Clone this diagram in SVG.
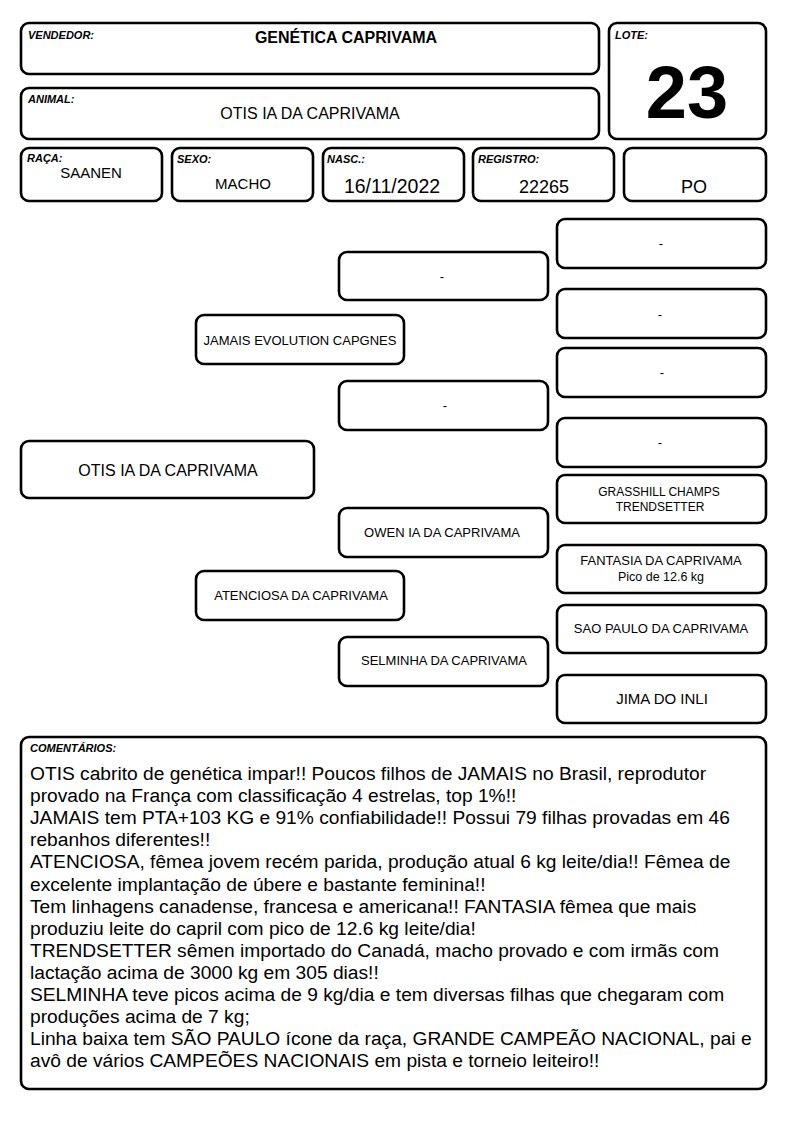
<svg xmlns="http://www.w3.org/2000/svg" width="794" height="1123" viewBox="0 0 794 1123">
<style>
.b{fill:#fff;stroke:#000;stroke-width:2.6}
.l{font-family:"Liberation Sans",Arial,sans-serif;font-size:11px;font-weight:bold;font-style:italic;fill:#000}
.t{font-family:"Liberation Sans",Arial,sans-serif;fill:#000;text-anchor:middle}
.c{font-family:"Liberation Sans",Arial,sans-serif;font-size:19.2px;fill:#000}
</style>
<rect width="794" height="1123" fill="#fff"/>
<g id="vendedor"><rect class="b" x="21" y="23" width="578" height="51" rx="8"/><text class="l" x="28" y="39">VENDEDOR:</text><text class="t" x="346" y="43" font-size="16" font-weight="bold">GENÉTICA CAPRIVAMA</text></g>
<g id="lote"><rect class="b" x="609" y="23" width="157" height="116" rx="8"/><text class="l" x="615" y="39">LOTE:</text><text class="t" x="687" y="118" font-size="74" font-weight="bold">23</text></g>
<g id="animal"><rect class="b" x="21" y="88" width="578" height="51" rx="8"/><text class="l" x="28" y="103">ANIMAL:</text><text class="t" x="310" y="119" font-size="16">OTIS IA DA CAPRIVAMA</text></g>
<g id="raca"><rect class="b" x="21" y="148" width="141" height="53" rx="8"/><text class="l" x="27" y="162">RAÇA:</text><text class="t" x="91" y="178" font-size="15">SAANEN</text></g>
<g id="sexo"><rect class="b" x="172" y="148" width="141" height="53" rx="8"/><text class="l" x="177" y="163">SEXO:</text><text class="t" x="243" y="189" font-size="15">MACHO</text></g>
<g id="nasc"><rect class="b" x="323" y="148" width="141" height="53" rx="8"/><text class="l" x="327" y="163">NASC.:</text><text class="t" x="392" y="193" font-size="19.5">16/11/2022</text></g>
<g id="registro"><rect class="b" x="473" y="148" width="141" height="53" rx="8"/><text class="l" x="478" y="163">REGISTRO:</text><text class="t" x="544" y="193" font-size="18">22265</text></g>
<g id="po"><rect class="b" x="624" y="148" width="142" height="53" rx="8"/><text class="t" x="694" y="193" font-size="18">PO</text></g>
<g id="connectors"></g>
<g id="otis"><rect class="b" x="21" y="441" width="293" height="57" rx="8"/><text class="t" x="168" y="476" font-size="16">OTIS IA DA CAPRIVAMA</text></g>
<g id="jamais"><rect class="b" x="196" y="315" width="208" height="49" rx="8"/><text class="t" x="300" y="345" font-size="13">JAMAIS EVOLUTION CAPGNES</text></g>
<g id="atenciosa"><rect class="b" x="196" y="571" width="208" height="49" rx="8"/><text class="t" x="301" y="600" font-size="13">ATENCIOSA DA CAPRIVAMA</text></g>
<g id="pp"><rect class="b" x="339" y="252" width="209" height="48" rx="8"/><text class="t" x="442" y="281" font-size="13">-</text></g>
<g id="pm"><rect class="b" x="339" y="381" width="209" height="49" rx="8"/><text class="t" x="445" y="410" font-size="13">-</text></g>
<g id="owen"><rect class="b" x="339" y="508" width="209" height="49" rx="8"/><text class="t" x="442" y="537" font-size="13">OWEN IA DA CAPRIVAMA</text></g>
<g id="selminha"><rect class="b" x="339" y="637" width="209" height="49" rx="8"/><text class="t" x="444" y="665" font-size="13">SELMINHA DA CAPRIVAMA</text></g>
<g id="ppp"><rect class="b" x="557" y="219" width="209" height="49" rx="8"/><text class="t" x="661" y="248" font-size="13">-</text></g>
<g id="ppm"><rect class="b" x="557" y="289" width="209" height="49" rx="8"/><text class="t" x="660" y="319" font-size="13">-</text></g>
<g id="pmp"><rect class="b" x="557" y="348" width="209" height="49" rx="8"/><text class="t" x="662" y="377" font-size="13">-</text></g>
<g id="pmm"><rect class="b" x="557" y="418" width="209" height="49" rx="8"/><text class="t" x="660" y="447" font-size="13">-</text></g>
<g id="grasshill"><rect class="b" x="557" y="475" width="209" height="48" rx="8"/><text class="t" x="659" y="496" font-size="12">GRASSHILL CHAMPS</text><text class="t" x="660" y="511" font-size="12">TRENDSETTER</text></g>
<g id="fantasia"><rect class="b" x="557" y="545" width="209" height="48" rx="8"/><text class="t" x="661" y="565" font-size="13">FANTASIA DA CAPRIVAMA</text><text class="t" x="661" y="581" font-size="12.5">Pico de 12.6 kg</text></g>
<g id="saopaulo"><rect class="b" x="557" y="605" width="209" height="48" rx="8"/><text class="t" x="661" y="633" font-size="13">SAO PAULO DA CAPRIVAMA</text></g>
<g id="jima"><rect class="b" x="557" y="675" width="209" height="48" rx="8"/><text class="t" x="662" y="704" font-size="15">JIMA DO INLI</text></g>
<g id="comentarios"><rect class="b" x="21" y="737" width="745" height="352" rx="8"/><text class="l" x="30" y="752">COMENTÁRIOS:</text>
<text class="c" x="30" y="780">OTIS cabrito de genética impar!! Poucos filhos de JAMAIS no Brasil, reprodutor</text>
<text class="c" x="30" y="802.1">provado na França com classificação 4 estrelas, top 1%!!</text>
<text class="c" x="30" y="824.2">JAMAIS tem PTA+103 KG e 91% confiabilidade!! Possui 79 filhas provadas em 46</text>
<text class="c" x="30" y="846.3">rebanhos diferentes!!</text>
<text class="c" x="30" y="868.4">ATENCIOSA, fêmea jovem recém parida, produção atual 6 kg leite/dia!! Fêmea de</text>
<text class="c" x="30" y="890.5">excelente implantação de úbere e bastante feminina!!</text>
<text class="c" x="30" y="912.6">Tem linhagens canadense, francesa e americana!! FANTASIA fêmea que mais</text>
<text class="c" x="30" y="934.7">produziu leite do capril com pico de 12.6 kg leite/dia!</text>
<text class="c" x="30" y="956.8">TRENDSETTER sêmen importado do Canadá, macho provado e com irmãs com</text>
<text class="c" x="30" y="978.9">lactação acima de 3000 kg em 305 dias!!</text>
<text class="c" x="30" y="1001">SELMINHA teve picos acima de 9 kg/dia e tem diversas filhas que chegaram com</text>
<text class="c" x="30" y="1023.1">produções acima de 7 kg;</text>
<text class="c" x="30" y="1045.2">Linha baixa tem SÃO PAULO ícone da raça, GRANDE CAMPEÃO NACIONAL, pai e</text>
<text class="c" x="30" y="1067.3">avô de vários CAMPEÕES NACIONAIS em pista e torneio leiteiro!!</text>
</g>
</svg>
